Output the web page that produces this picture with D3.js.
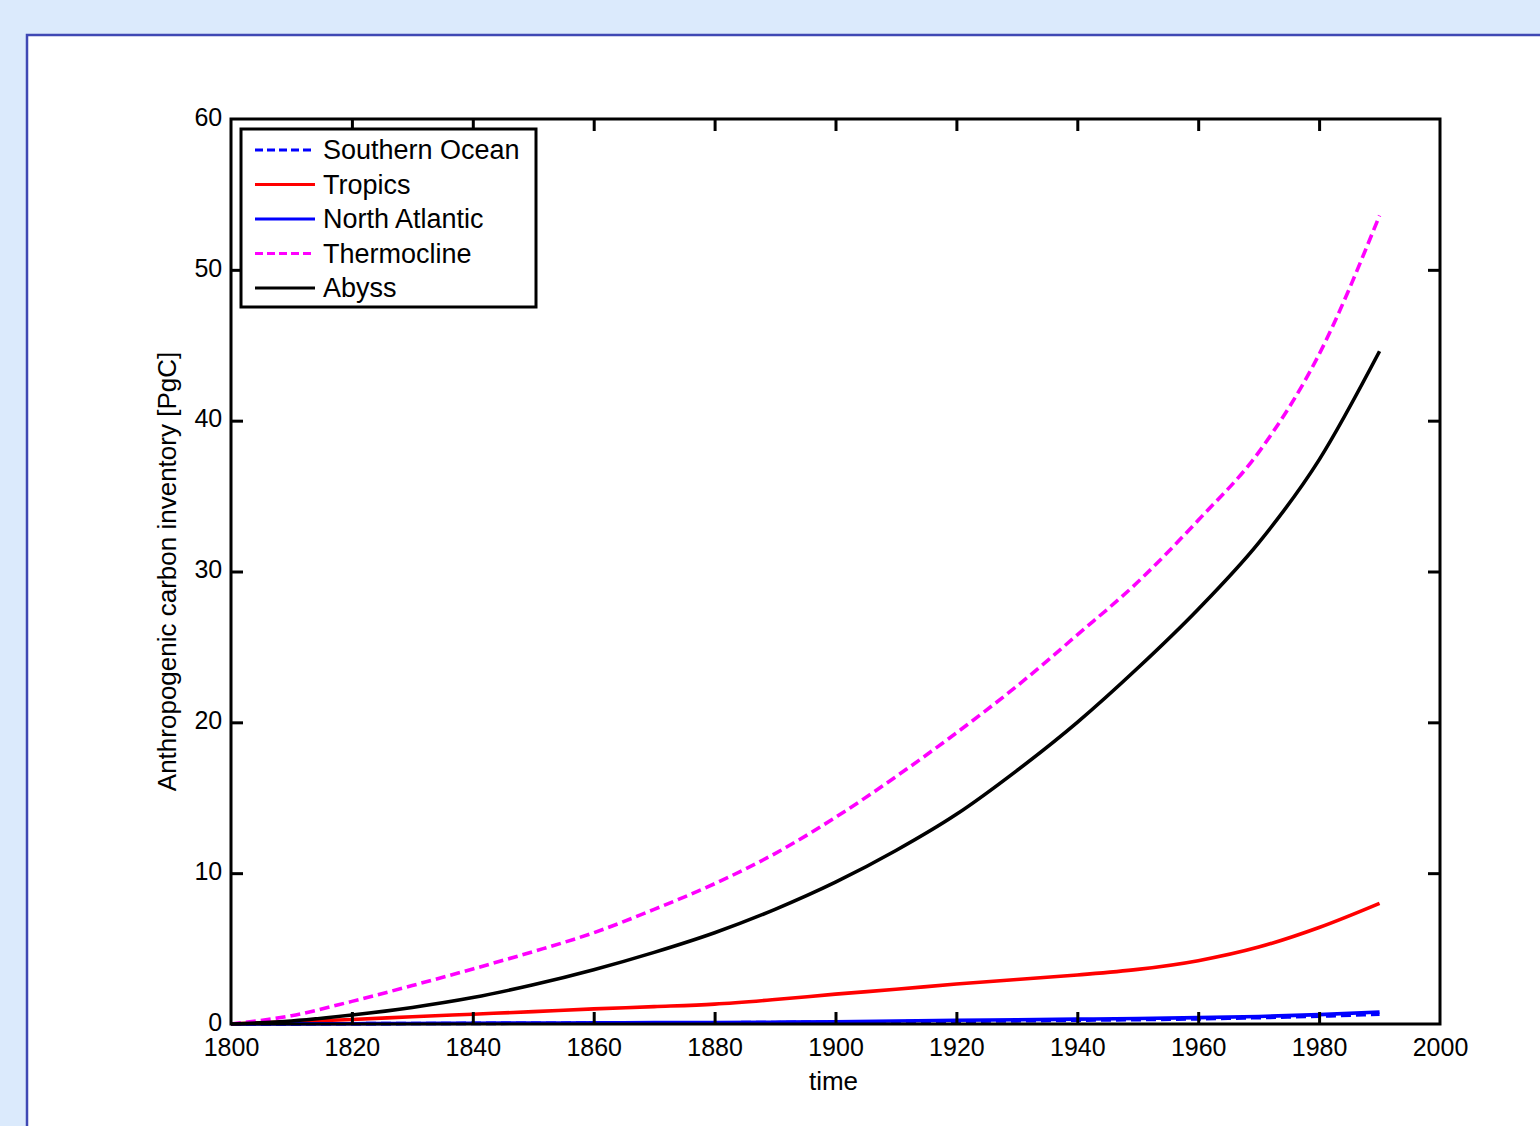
<!DOCTYPE html>
<html>
<head>
<meta charset="utf-8">
<script src="https://cdn.jsdelivr.net/npm/d3@7"></script>
<style>
  html, body { margin: 0; padding: 0; background: #dbeafc; }
  svg { display: block; }
  text { font-family: "Liberation Sans", Arial, Helvetica, sans-serif; fill: #000; }
</style>
</head>
<body>
<svg id="chart" width="1540" height="1126"></svg>
<script>
// --- data (PgC per decade) ---
const years = [1800, 1810, 1820, 1830, 1840, 1850, 1860, 1870, 1880, 1890, 1900, 1910, 1920, 1930, 1940, 1950, 1960, 1970, 1980, 1990];
const southernOcean = [0, 0.01, 0.02, 0.03, 0.04, 0.05, 0.06, 0.07, 0.08, 0.1, 0.12, 0.15, 0.18, 0.21, 0.25, 0.29, 0.34, 0.42, 0.52, 0.65];
const tropics       = [0, 0.15, 0.3, 0.48, 0.65, 0.82, 1.0, 1.15, 1.32, 1.62, 1.98, 2.3, 2.65, 2.95, 3.25, 3.62, 4.2, 5.1, 6.4, 8.0];
const northAtlantic = [0, 0.01, 0.02, 0.03, 0.05, 0.06, 0.08, 0.09, 0.1, 0.12, 0.15, 0.2, 0.25, 0.28, 0.32, 0.36, 0.42, 0.5, 0.62, 0.8];
const thermocline   = [0, 0.55, 1.5, 2.55, 3.65, 4.8, 6.05, 7.6, 9.3, 11.3, 13.7, 16.4, 19.3, 22.4, 25.8, 29.3, 33.4, 37.9, 44.4, 53.6];
const abyss         = [0, 0.2, 0.6, 1.1, 1.75, 2.6, 3.6, 4.75, 6.05, 7.6, 9.4, 11.5, 13.9, 16.8, 20.0, 23.6, 27.5, 31.9, 37.4, 44.6];

const xTicks = [1800, 1820, 1840, 1860, 1880, 1900, 1920, 1940, 1960, 1980, 2000];
const yTicks = [0, 10, 20, 30, 40, 50, 60];

// draw order matters: southern ocean sits under north atlantic
const series = [
  { name: "Southern Ocean", values: southernOcean, color: "#0000ff", dash: "10,5" },
  { name: "Tropics",        values: tropics,       color: "#ff0000", dash: null },
  { name: "North Atlantic", values: northAtlantic, color: "#0000ff", dash: null },
  { name: "Thermocline",    values: thermocline,   color: "#ff00ff", dash: "10,5" },
  { name: "Abyss",          values: abyss,         color: "#000000", dash: null }
];

const svg = d3.select("#chart");

// white slide panel with blue rule
svg.append("rect")
  .attr("x", 27).attr("y", 35)
  .attr("width", 1540).attr("height", 1126)
  .attr("fill", "#fff")
  .attr("stroke", "#3f48b4")
  .attr("stroke-width", 2.5);

const plot = { left: 231, right: 1440, top: 119, bottom: 1024 };

const x = d3.scaleLinear().domain([1800, 2000]).range([plot.left, plot.right]);
const y = d3.scaleLinear().domain([0, 60]).range([plot.bottom, plot.top]);

const g = svg.append("g");

// data lines
const line = d3.line()
  .x((d, i) => x(years[i]))
  .y(d => y(d))
  .curve(d3.curveMonotoneX);

series.forEach(s => {
  g.append("path")
    .datum(s.values)
    .attr("d", line)
    .attr("fill", "none")
    .attr("stroke", s.color)
    .attr("stroke-width", 3.6)
    .attr("stroke-dasharray", s.dash);
});

// axes: ticks point inward, mirrored on top and right
const tickLen = 12;
const bottomAxis = d3.axisBottom(x).tickValues(xTicks).tickFormat(d3.format("d")).tickSizeInner(-tickLen).tickSizeOuter(0).tickPadding(21);
const topAxis = d3.axisTop(x).tickValues(xTicks).tickFormat("").tickSizeInner(-tickLen).tickSizeOuter(0);
const leftAxis = d3.axisLeft(y).tickValues(yTicks).tickSizeInner(-tickLen).tickSizeOuter(0).tickPadding(20);
const rightAxis = d3.axisRight(y).tickValues(yTicks).tickFormat("").tickSizeInner(-tickLen).tickSizeOuter(0);

function styleAxis(sel) {
  sel.select(".domain").remove();
  sel.selectAll(".tick line").attr("stroke", "#000").attr("stroke-width", 3);
  sel.selectAll(".tick text").attr("font-size", 25).attr("fill", "#000")
    .style("font-family", "'Liberation Sans', Arial, sans-serif");
}

g.append("g").attr("transform", `translate(0,${plot.bottom})`).call(bottomAxis).call(styleAxis)
  .selectAll(".tick text").attr("dy", "0.45em");
g.append("g").attr("transform", `translate(0,${plot.top})`).call(topAxis).call(styleAxis);
g.append("g").attr("transform", `translate(${plot.left},0)`).call(leftAxis).call(styleAxis)
  .selectAll(".tick text").attr("dx", "0.45em").attr("dy", "0.25em");
g.append("g").attr("transform", `translate(${plot.right},0)`).call(rightAxis).call(styleAxis);

// hide tick marks that sit on the frame corners
g.selectAll(".tick").filter(d => d === 1800 || d === 2000 || d === 0 || d === 60).select("line").remove();

// frame
g.append("rect")
  .attr("x", plot.left).attr("y", plot.top)
  .attr("width", plot.right - plot.left).attr("height", plot.bottom - plot.top)
  .attr("fill", "none").attr("stroke", "#000").attr("stroke-width", 3);

// axis labels
svg.append("text")
  .attr("x", x(1900) - 2).attr("y", 1090)
  .attr("text-anchor", "middle").attr("font-size", 26)
  .text("time");

svg.append("text")
  .attr("transform", `translate(176,${(plot.top + plot.bottom) / 2}) rotate(-90)`)
  .attr("text-anchor", "middle").attr("font-size", 26)
  .text("Anthropogenic carbon inventory [PgC]");

// legend
const legend = svg.append("g").attr("transform", "translate(241,129)");
legend.append("rect")
  .attr("width", 295).attr("height", 178)
  .attr("fill", "#fff").attr("stroke", "#000").attr("stroke-width", 3);

const rowY = d3.scalePoint().domain(series.map(s => s.name)).range([21, 159]);

series.forEach(s => {
  const row = legend.append("g").attr("transform", `translate(0,${rowY(s.name)})`);
  row.append("line")
    .attr("x1", 14).attr("x2", 74)
    .attr("stroke", s.color).attr("stroke-width", 3.2)
    .attr("stroke-dasharray", s.dash ? "8,4" : null);
  row.append("text")
    .attr("x", 82).attr("dy", "0.35em")
    .attr("font-size", 27)
    .text(s.name);
});
</script>
</body>
</html>
